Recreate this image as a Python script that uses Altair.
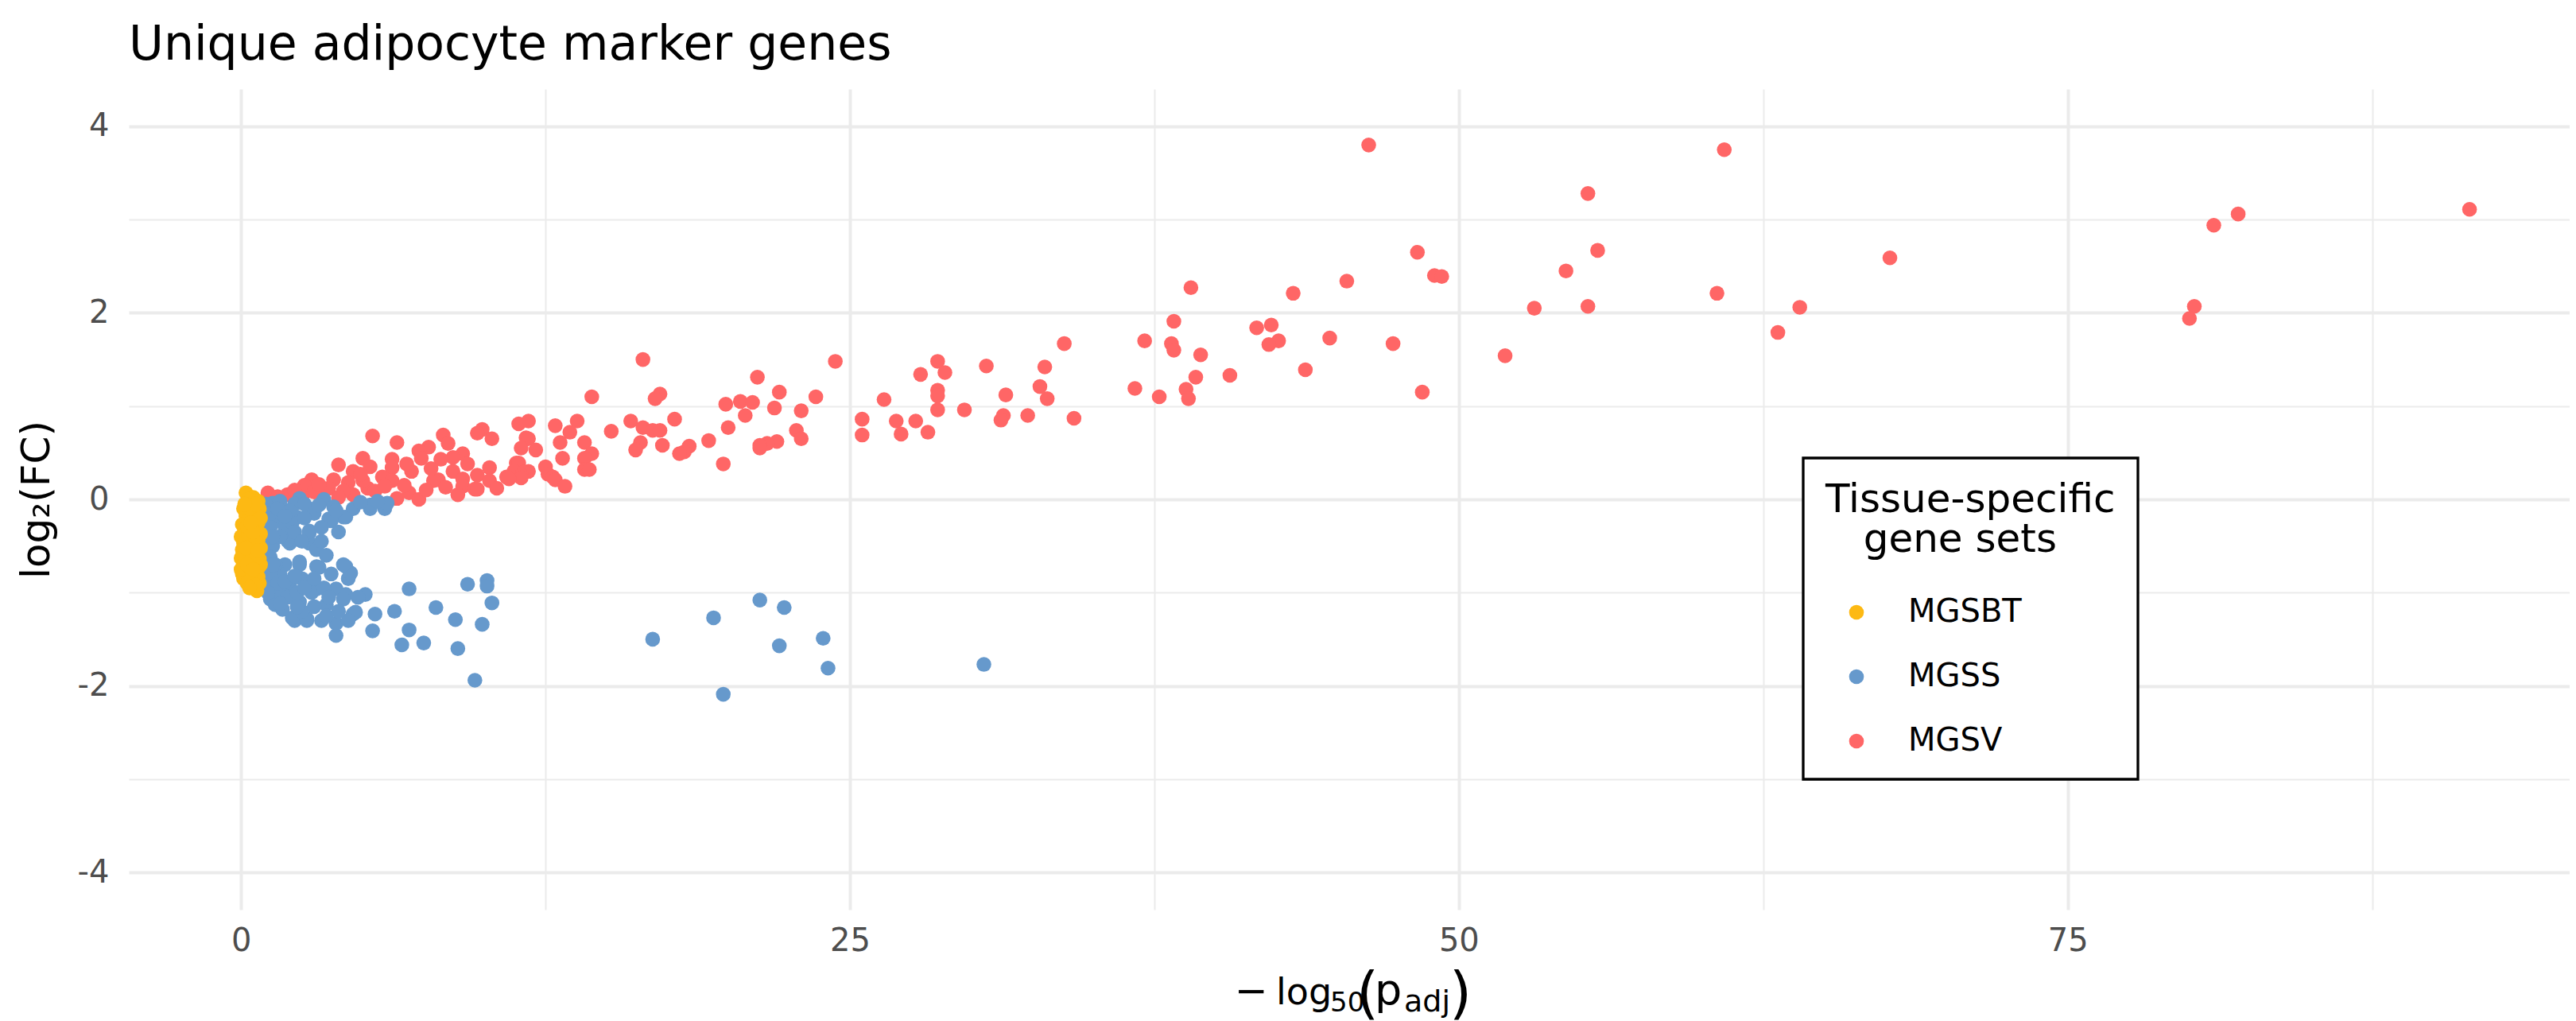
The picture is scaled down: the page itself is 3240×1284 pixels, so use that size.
import altair as alt
import pandas as pd

# ---------------- data ----------------
sets = ["MGSBT", "MGSS", "MGSV"]
set_colors = ["#FDB913", "#6699CC", "#FF6666"]

mgsv_x = [46.3, 60.9, 55.3, 91.5, 82.0, 81.0, 55.7, 48.3, 67.7, 54.4, 49.0, 49.3, 45.4, 39.0,
          43.2, 60.6, 64.0, 55.3, 53.1, 80.2, 80.0, 38.3, 42.3, 41.7, 63.1, 44.7, 42.6, 37.1,
          42.2, 38.2, 47.3, 33.8, 38.3, 39.4, 51.9, 16.5, 24.4, 28.6, 30.6, 33.0, 43.7, 28.9,
          27.9, 40.6, 21.2, 39.2, 32.8, 36.7, 38.8, 28.6, 22.1, 48.5, 17.2, 31.4, 28.6, 14.4,
          23.6, 37.7, 17.0, 33.1, 26.4, 38.9, 20.5, 21.0, 19.9, 21.9, 28.6, 29.7, 23.0, 20.7,
          31.3, 32.3, 34.2, 25.5, 17.8, 31.2, 26.9, 27.7, 16.0, 13.8, 11.8, 11.4, 12.9, 20.0,
          16.5, 9.9, 22.8, 16.9, 17.2, 15.2, 13.5, 28.2, 27.1, 9.7, 25.5, 8.3, 5.4, 11.7,
          23.0, 11.8, 10.3, 19.2, 22.0, 13.1, 14.1, 16.4, 6.4, 21.6, 8.5, 21.3, 18.4, 17.3,
          7.7, 21.3, 11.5, 12.1, 16.2, 7.3, 18.2, 18.0, 14.4, 9.1, 8.7, 13.2, 14.1, 7.4,
          5.0, 8.2, 6.2, 11.3, 11.4, 19.8, 9.3, 4.0, 12.5, 5.3, 10.2, 6.2, 14.1, 14.3,
          11.8, 11.2, 4.6, 8.7, 11.6, 12.6, 9.7, 11.5, 10.9, 5.8, 12.8, 11.5, 11.0, 9.1,
          12.9, 8.1, 3.8, 2.9, 10.2, 7.9, 6.2, 4.4, 2.6, 9.1, 13.3, 5.2, 9.6, 9.7,
          3.4, 5.5, 1.1, 6.9, 1.9, 4.6, 6.4, 7.3, 3.0, 3.6, 4.2, 5.0, 6.7, 7.6,
          8.4, 2.2, 3.2, 4.9, 5.9, 7.0, 6.8, 7.8, 8.9, 10.5, 1.5, 2.5, 4.0]
mgsv_y = [3.80, 3.75, 3.28, 3.11, 3.06, 2.94, 2.67, 2.65, 2.59, 2.45, 2.40, 2.39, 2.34, 2.27,
          2.21, 2.21, 2.06, 2.07, 2.05, 2.07, 1.94, 1.91, 1.87, 1.84, 1.79, 1.73, 1.70, 1.70,
          1.66, 1.67, 1.67, 1.67, 1.60, 1.55, 1.54, 1.50, 1.48, 1.48, 1.43, 1.42, 1.39, 1.36,
          1.34, 1.33, 1.31, 1.31, 1.21, 1.19, 1.18, 1.17, 1.15, 1.15, 1.13, 1.12, 1.11, 1.10,
          1.10, 1.10, 1.08, 1.08, 1.07, 1.08, 1.05, 1.04, 1.02, 0.98, 0.96, 0.96, 0.95, 0.90,
          0.90, 0.90, 0.87, 0.86, 0.86, 0.85, 0.84, 0.84, 0.84, 0.84, 0.84, 0.81, 0.79, 0.77,
          0.77, 0.75, 0.74, 0.74, 0.74, 0.73, 0.72, 0.72, 0.70, 0.71, 0.69, 0.69, 0.68, 0.66,
          0.65, 0.65, 0.65, 0.63, 0.62, 0.61, 0.61, 0.61, 0.61, 0.60, 0.60, 0.58, 0.57, 0.58,
          0.56, 0.55, 0.55, 0.53, 0.53, 0.52, 0.51, 0.49, 0.49, 0.49, 0.45, 0.44, 0.44, 0.44,
          0.44, 0.43, 0.43, 0.39, 0.39, 0.38, 0.38, 0.37, 0.35, 0.35, 0.34, 0.34, 0.32, 0.32,
          0.30, 0.30, 0.30, 0.30, 0.29, 0.27, 0.26, 0.26, 0.24, 0.24, 0.24, 0.23, 0.22, 0.22,
          0.21, 0.21, 0.21, 0.21, 0.20, 0.20, 0.20, 0.18, 0.15, 0.14, 0.14, 0.12, 0.11, 0.11,
          0.10, 0.09, 0.07, 0.07, 0.05, 0.05, 0.01, 0.00, 0.08, 0.12, 0.09, 0.20, 0.15, 0.10,
          0.13, 0.10, 0.16, 0.27, 0.14, 0.30, 0.38, 0.33, 0.05, 0.12, 0.03, 0.02, 0.02]

mgss_x = [16.9, 19.4, 19.8, 21.3, 22.3, 22.1, 23.9, 24.1, 30.5, 9.6, 6.9, 9.3, 10.1, 10.1,
          10.3, 8.0, 8.8, 9.9, 8.9, 6.3, 5.5, 5.4, 5.1, 6.9, 6.6, 7.5, 3.9, 4.6,
          4.3, 4.4, 4.3, 4.5, 3.1, 3.9, 3.1, 2.8, 2.8, 2.2, 2.7, 3.3, 3.9, 1.4,
          2.4, 2.0, 1.8, 2.4, 3.1, 3.6, 4.3, 5.3, 5.9, 2.0, 2.0, 6.0, 5.3, 4.6,
          4.2, 3.7, 3.4, 2.8, 2.4, 1.3, 1.5, 1.9, 2.8, 3.1, 2.3, 2.4, 3.2, 4.2,
          1.4, 2.0, 1.2, 1.4, 2.1, 2.7, 3.5, 4.2, 4.7, 4.4,
          1.0, 1.1, 0.9, 1.0, 1.1, 0.9, 1.0, 1.1, 0.9, 1.0, 1.2, 1.3, 1.2, 1.6,
          1.3, 1.6, 1.7, 1.8, 1.6, 1.4, 2.1, 2.2, 2.6, 3.0, 3.3, 3.8, 4.0, 2.5,
          1.9, 2.3, 2.9, 3.4, 3.7, 3.5, 2.5, 1.7, 4.9, 5.6, 3.9, 3.2, 2.6, 2.0, 1.6,
          1.2, 1.5, 1.8, 2.2, 2.5, 1.3, 1.2, 1.5, 1.8, 2.2, 2.6, 3.0, 3.6, 3.0,
          2.3, 1.6, 4.0, 4.8, 3.3, 3.5, 1.1, 1.3]
mgss_y = [-1.50, -1.27, -2.09, -1.08, -1.16, -1.57, -1.49, -1.81, -1.77, -1.94, -0.96, -0.91, -0.87, -0.93,
          -1.11, -1.16, -1.29, -1.34, -1.60, -1.20, -1.23, -1.41, -1.02, -1.40, -1.56, -1.54, -1.46, -1.23,
          -1.02, -0.85, -0.72, -0.79, -0.96, -0.96, -0.53, -0.36, -0.47, -1.30, -1.30, -1.30, -1.33, -1.11,
          -1.10, -0.98, -0.70, -0.67, -0.72, -0.21, -0.19, -0.10, -0.10, -0.39, -0.47, -0.04, -0.06, -0.10,
          -0.19, -0.23, 0.00, -0.10, 0.01, -0.04, -0.22, -0.44, -0.34, -0.54, -0.19, -0.70, -0.73, -0.70,
          -0.84, -0.90, -1.07, -1.13, -1.27, -1.28, -1.13, -1.07, -1.21, -1.30,
          -0.05, -0.15, -0.25, -0.35, -0.45, -0.55, -0.65, -0.75, -0.85, -0.95, -0.30, -0.50, -0.62, -0.80,
          -0.95, -1.00, -0.10, -0.30, -0.40, -0.70, -0.25, -0.05, -0.05, -0.15, -0.30, -0.08, -0.35, -0.85,
          -1.05, -1.00, -1.00, -0.95, -0.80, -1.25, -1.20, -1.18, -0.03, -0.02, -0.12, -0.06, -0.20, -0.12, -0.02,
          -0.15, -0.10, -0.18, -0.35, -0.45, -0.40, -0.80, -0.90, -0.88, -0.82, -0.95, -0.85, -1.05, -1.15,
          -1.15, -1.12, -1.20, -1.05, -0.45, -0.60, -1.00, -0.70]

mgsbt_x = [0.2, 0.5, 0.7, 0.1, 0.4, 0.6, 0.2, 0.3, 0.7, 0.05, 0.5, 0.15, 0.6, 0.35, 0.8,
           0.0, 0.45, 0.25, 0.7, 0.1, 0.55, 0.3, 0.8, 0.05, 0.4, 0.65, 0.2, 0.5, 0.0, 0.75,
           0.3, 0.55, 0.1, 0.4, 0.7, 0.2, 0.6, 0.05, 0.35, 0.7, 0.2, 0.5, 0.75, 0.4, 0.65,
           0.3, 0.6, 0.15, 0.45, 0.25, 0.8, 0.1, 0.55, 0.35, 0.75, 0.2, 0.65, 0.0, 0.45, 0.25,
           0.3, 0.6, 0.15, 0.5, 0.7, 0.25, 0.5, 0.6, 0.35, 0.8, 0.4]
mgsbt_y = [0.07, 0.02, -0.02, -0.10, -0.12, -0.15, -0.18, -0.22, -0.25, -0.27, -0.28, -0.32, -0.33, -0.35, -0.37,
           -0.40, -0.40, -0.43, -0.44, -0.47, -0.48, -0.50, -0.52, -0.54, -0.55, -0.57, -0.59, -0.61, -0.63, -0.64,
           -0.66, -0.68, -0.70, -0.72, -0.74, -0.76, -0.78, -0.80, -0.82, -0.83, -0.86, -0.88, -0.90, -0.93, -0.98,
           -0.38, -0.45, -0.60, -0.65, -0.29, -0.70, -0.85, -0.20, -0.10, -0.10, -0.52, -0.62, -0.75, -0.78, -0.90,
           0.00, -0.05, -0.05, -0.35, -0.55, -0.70, -0.75, -0.92, -0.95, -0.20, -0.25]

x_grid = [0, 12.5, 25, 37.5, 50, 62.5, 75, 87.5]
y_grid = [-4, -3, -2, -1, 0, 1, 2, 3, 4]

rows = []
for name, xs, ys in [("MGSV", mgsv_x, mgsv_y), ("MGSS", mgss_x, mgss_y), ("MGSBT", mgsbt_x, mgsbt_y)]:
    for xv, yv in zip(xs, ys):
        rows.append({"neglog": xv, "log2fc": yv, "set": name})
df = pd.DataFrame(rows)

FONT = "DejaVu Sans"
W, H = 3070, 1032
INDENT = "\u200b" + "\u00a0" * 3   # keeps the second title line centred under the first

points = alt.Chart(df).mark_circle(size=345, opacity=1).encode(
    x=alt.X("neglog:Q",
            scale=alt.Scale(domain=[-4.61, 95.61], nice=False, zero=False),
            axis=alt.Axis(values=x_grid, title=None,
                          labelExpr="datum.value % 25 === 0 ? toString(datum.value) : ''",
                          gridWidth={"condition": {"test": "datum.value % 25 === 0", "value": 4}, "value": 2},
                          labelPadding=19)),
    y=alt.Y("log2fc:Q",
            scale=alt.Scale(domain=[-4.4, 4.4], nice=False, zero=False),
            axis=alt.Axis(values=y_grid, title="log\u2082(FC)",
                          labelExpr="datum.value % 2 === 0 ? toString(datum.value) : ''",
                          gridWidth={"condition": {"test": "datum.value % 2 === 0", "value": 4}, "value": 2},
                          labelPadding=25,
                          titleX=-116, titleY=H / 2, titleAngle=270,
                          titleAlign="center", titleBaseline="middle")),
    color=alt.Color("set:N",
                    scale=alt.Scale(domain=sets, range=set_colors),
                    legend=alt.Legend(title=["Tissue-specific", INDENT + "gene sets"],
                                      orient="none", legendX=2106, legendY=464,
                                      fillColor="white",
                                      titleFont=FONT, titleFontSize=50, titleFontWeight="normal",
                                      titleColor="black", titleAnchor="start", titleAlign="left",
                                      titleLineHeight=50, titlePadding=46, titleLimit=1000,
                                      labelFont=FONT, labelFontSize=40, labelColor="black",
                                      labelLimit=1000,
                                      symbolType="circle", symbolSize=346, symbolStrokeWidth=0,
                                      symbolOffset=19, labelOffset=45)),
)

# plot title as a text element placed above the panel
title_text = alt.Chart(alt.Data(values=[{}])).mark_text(
    text="Unique adipocyte marker genes", font=FONT, fontSize=60, color="black",
    align="left", baseline="alphabetic"
).encode(x=alt.value(0), y=alt.value(-37))

# x-axis title built from pieces to get the sub-scripts of -log50(p_adj)
xt_pieces = [("\u2212", 1391, 1151, 50), ("log", 1443, 1151, 46),
             ("50", 1511, 1160, 34), ("(", 1544, 1161, 72),
             ("p", 1567, 1151, 54), ("adj", 1604, 1160, 38),
             (")", 1661, 1161, 72)]
texts = [title_text]
for t, px, py, fs in xt_pieces:
    texts.append(
        alt.Chart(alt.Data(values=[{}])).mark_text(
            text=t, font=FONT, fontSize=fs, color="black", align="left", baseline="alphabetic"
        ).encode(x=alt.value(px), y=alt.value(py))
    )

chart = alt.layer(points, *texts).properties(
    width=W, height=H,
    padding={"left": 154, "top": 104, "right": 0, "bottom": 150},
    autosize=alt.AutoSizeParams(type="none"),
    background="white",
).configure_view(stroke=None).configure_axis(
    domain=False, ticks=False, tickSize=0, grid=True, gridColor="#EBEBEB",
    labelFont=FONT, labelFontSize=40, labelColor="#4D4D4D",
    titleFont=FONT, titleFontSize=50, titleFontWeight="normal", titleColor="black",
).configure_legend(
    padding=28, strokeColor="black", strokeWidth=3.3, cornerRadius=0, rowPadding=41,
)

chart.save("out.html", embed_options={"renderer": "svg", "actions": False})
